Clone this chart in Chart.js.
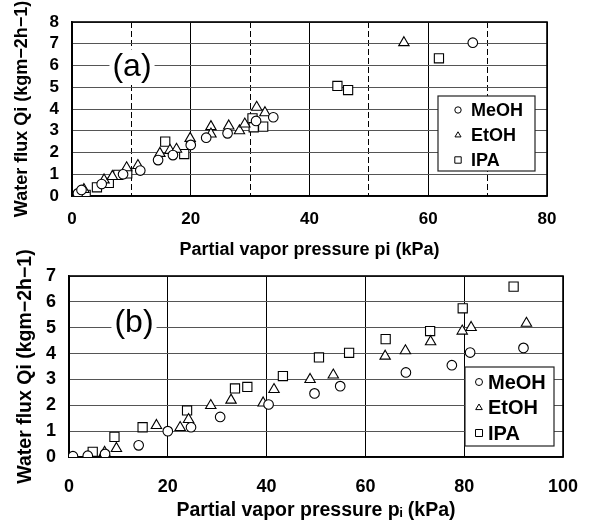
<!DOCTYPE html>
<html><head><meta charset="utf-8">
<script src="https://cdn.jsdelivr.net/npm/chart.js@4/dist/chart.umd.min.js"></script>
<style>
html,body{margin:0;padding:0;background:#fff;overflow:hidden;}
canvas{position:absolute;left:0;}
#ca{top:0;}
#cb{top:240px;}
</style></head><body>
<canvas id="ca" width="589" height="262"></canvas>
<canvas id="cb" width="589" height="280"></canvas>
<script>
// ---------- data ----------
const seriesNames = ['MeOH', 'EtOH', 'IPA'];
const panelLabels = ['(a)', '(b)'];
const yTitle = 'Water flux Qi (kgm\u22122h\u22121)';
const xTitleA = 'Partial vapor pressure pi (kPa)';
const xTitleB = 'Partial vapor pressure p\u1d62 (kPa)';
const xTickLabelsA = [0, 20, 40, 60, 80];
const xTickLabelsB = [0, 20, 40, 60, 80, 100];
const yTickLabelsA = [0, 1, 2, 3, 4, 5, 6, 7, 8];
const yTickLabelsB = [0, 1, 2, 3, 4, 5, 6, 7];

// panel (a): [pressure kPa, flux]
const meohA = [[1.0,0.12],[1.6,0.28],[5.0,0.55],[8.6,1.0],[11.5,1.17],[14.5,1.65],[17.0,1.88],[20.0,2.35],[22.6,2.68],[26.2,2.88],[31.0,3.45],[33.9,3.62],[67.5,7.05]];
const etohA = [[2.0,0.3],[5.4,0.74],[6.8,0.9],[9.2,1.3],[11.1,1.4],[14.8,1.96],[16.5,2.1],[17.6,2.15],[19.9,2.65],[23.4,3.19],[23.4,2.85],[26.4,3.22],[28.2,3.0],[29.1,3.31],[31.1,4.08],[32.5,3.83],[55.9,7.05]];
const ipaA  = [[1.5,0.1],[2.3,0.05],[4.2,0.4],[6.2,0.6],[7.8,0.97],[9.3,1.04],[15.7,2.5],[18.9,1.93],[30.4,3.57],[30.6,3.16],[32.2,3.19],[44.7,5.06],[46.5,4.87],[61.8,6.33]];

// panel (b)
const meohB = [[0.8,0.03],[3.8,0.05],[7.3,0.12],[14.1,0.45],[20.0,1.0],[24.7,1.15],[30.6,1.55],[40.4,2.03],[49.7,2.46],[54.9,2.74],[68.2,3.27],[77.5,3.55],[81.2,4.04],[92.0,4.22]];
const etohB = [[7.2,0.18],[9.6,0.33],[17.7,1.22],[22.5,1.14],[24.2,1.45],[28.7,1.99],[32.8,2.2],[39.3,2.09],[41.5,2.61],[48.8,3.0],[53.5,3.17],[64.0,3.9],[68.1,4.11],[73.2,4.46],[79.6,4.87],[81.4,5.01],[92.6,5.17]];
const ipaB  = [[4.8,0.2],[9.2,0.78],[14.9,1.15],[23.9,1.8],[33.6,2.65],[36.1,2.71],[43.3,3.13],[50.6,3.85],[56.7,4.03],[64.1,4.56],[73.1,4.87],[79.7,5.75],[90.0,6.59]];

// ---------- helpers ----------
const FONT = "'Liberation Sans', Arial, sans-serif";
const styles = ['circle', 'triangle', 'rect'];
const radii = [4.8, 6.0, 6.5];

function toPts(arr) { return arr.map(p => ({x: p[0], y: p[1]})); }

function drawMarker(ctx, style, x, y, r) {
  ctx.beginPath();
  if (style === 'circle') {
    ctx.arc(x, y, r, 0, Math.PI * 2);
  } else if (style === 'triangle') {
    ctx.moveTo(x, y - r);
    ctx.lineTo(x + r * 0.95, y + r * 0.6);
    ctx.lineTo(x - r * 0.95, y + r * 0.6);
    ctx.closePath();
  } else {
    ctx.rect(x - r, y - r, 2 * r, 2 * r);
  }
  ctx.fillStyle = '#fff';
  ctx.fill();
  ctx.stroke();
}

const framePlugin = {
  id: 'frame',
  beforeDatasetsDraw(chart) {
    const a = chart.chartArea, ctx = chart.ctx;
    ctx.save();
    ctx.strokeStyle = '#000';
    ctx.lineWidth = 1.6;
    ctx.strokeRect(a.left, a.top, a.right - a.left, a.bottom - a.top);
    ctx.restore();
  }
};

const boxLegendPlugin = {
  id: 'boxLegend',
  afterDatasetsDraw(chart, args, o) {
    const ctx = chart.ctx;
    ctx.save();
    ctx.fillStyle = '#fff';
    ctx.fillRect(o.x, o.y, o.w, o.h);
    ctx.strokeStyle = '#222';
    ctx.lineWidth = 1.2;
    ctx.strokeRect(o.x, o.y, o.w, o.h);
    chart.data.datasets.forEach((ds, i) => {
      const cy = o.y + o.first + i * o.step;
      ctx.strokeStyle = '#000';
      ctx.lineWidth = 1;
      drawMarker(ctx, ds.pointStyle, o.x + o.mx, cy, o.mr);
      ctx.fillStyle = '#000';
      ctx.font = 'bold ' + o.fs + 'px ' + FONT;
      ctx.textBaseline = 'middle';
      ctx.textAlign = 'left';
      ctx.fillText(ds.label, o.x + o.tx, cy + 1);
    });
    ctx.restore();
  }
};

const panelLabelPlugin = {
  id: 'panelLabel',
  beforeDatasetsDraw(chart, args, o) {
    const ctx = chart.ctx;
    ctx.save();
    ctx.font = o.fs + 'px ' + FONT;
    const w = ctx.measureText(o.text).width;
    ctx.fillStyle = '#fff';
    ctx.fillRect(o.cx - w / 2 - 3, o.cy - o.fs * 0.55, w + 6, o.fs * 1.1);
    ctx.fillStyle = '#000';
    ctx.textAlign = 'center';
    ctx.textBaseline = 'middle';
    ctx.fillText(o.text, o.cx, o.cy);
    ctx.restore();
  }
};

function makeChart(id, cfg) {
  const datasets = cfg.series.map((s, i) => ({
    label: seriesNames[i],
    data: toPts(s),
    pointStyle: styles[i],
    pointRadius: radii[i],
    pointHoverRadius: radii[i],
    pointBackgroundColor: '#fff',
    pointBorderColor: '#000',
    pointBorderWidth: 1.1,
    showLine: false
  }));
  return new Chart(document.getElementById(id), {
    type: 'scatter',
    data: {datasets},
    plugins: [framePlugin, panelLabelPlugin, boxLegendPlugin],
    options: {
      responsive: false,
      animation: false,
      events: [],
      layout: {padding: cfg.padding},
      plugins: {
        legend: {display: false},
        tooltip: {enabled: false},
        boxLegend: cfg.legend,
        panelLabel: cfg.panel
      },
      scales: {
        x: {
          type: 'linear',
          min: 0, max: cfg.xMax,
          afterFit: s => { s.height = cfg.xH; },
          ticks: {
            stepSize: cfg.xStep,
            padding: 0,
            color: '#000',
            font: {family: FONT, size: cfg.tickFs, weight: 'bold'},
            maxRotation: 0,
            autoSkip: false,
            callback: v => cfg.xLabels.includes(v) ? String(v) : ''
          },
          grid: {
            drawTicks: true,
            tickLength: cfg.xTickGap,
            tickColor: 'rgba(0,0,0,0)',
            color: '#000',
            lineWidth: 1
          },
          border: {
            display: true, color: '#000', width: 1.6,
            dash: c => (c.tick && !cfg.xLabels.includes(c.tick.value)) ? [6, 3] : []
          },
          title: {
            display: true,
            text: cfg.xTitle,
            color: '#000',
            font: {family: FONT, size: cfg.xTitleFs, weight: 'bold'},
            padding: {top: 0, bottom: cfg.xTitlePad}
          }
        },
        y: {
          type: 'linear',
          min: 0, max: cfg.yMax,
          afterFit: s => { s.width = cfg.yW; },
          ticks: {
            stepSize: 1,
            autoSkip: false,
            padding: 0,
            color: '#000',
            font: {family: FONT, size: cfg.tickFs, weight: 'bold'},
            callback: v => cfg.yLabels.includes(v) ? String(v) : ''
          },
          grid: {
            drawTicks: true,
            tickLength: cfg.yTickGap,
            tickColor: 'rgba(0,0,0,0)',
            color: '#555',
            lineWidth: 1
          },
          border: {display: true, color: '#000', width: 1.6},
          title: {
            display: true,
            text: yTitle,
            color: '#000',
            font: {family: FONT, size: cfg.yTitleFs, weight: 'bold'},
            padding: {top: cfg.yTitlePad, bottom: 0}
          }
        }
      }
    }
  });
}

makeChart('ca', {
  series: [meohA, etohA, ipaA],
  xMax: 80, yMax: 8, xStep: 10,
  xLabels: xTickLabelsA, yLabels: yTickLabelsA,
  xTitle: xTitleA,
  padding: {top: 22, right: 42, left: 0, bottom: 0},
  xH: 66, yW: 72,
  xTickGap: 13, yTickGap: 13,
  tickFs: 17, xTitleFs: 18, yTitleFs: 18,
  xTitlePad: 1, yTitlePad: 11,
  legend: {x: 438, y: 96, w: 97, h: 75, first: 14, step: 25, mx: 20, mr: 3.2, tx: 33, fs: 18},
  panel: {text: panelLabels[0], cx: 132, cy: 67, fs: 32}
});

makeChart('cb', {
  series: [meohB, etohB, ipaB],
  xMax: 100, yMax: 7, xStep: 20,
  xLabels: xTickLabelsB, yLabels: yTickLabelsB,
  xTitle: xTitleB,
  padding: {top: 36, right: 26, left: 0, bottom: 0},
  xH: 63, yW: 69,
  xTickGap: 19, yTickGap: 13,
  tickFs: 18, xTitleFs: 19.5, yTitleFs: 19.5,
  xTitlePad: -2, yTitlePad: 14,
  legend: {x: 465, y: 127, w: 89, h: 79, first: 15, step: 25.5, mx: 14, mr: 3.5, tx: 23, fs: 20},
  panel: {text: panelLabels[1], cx: 134, cy: 83, fs: 32}
});
</script>
</body></html>
